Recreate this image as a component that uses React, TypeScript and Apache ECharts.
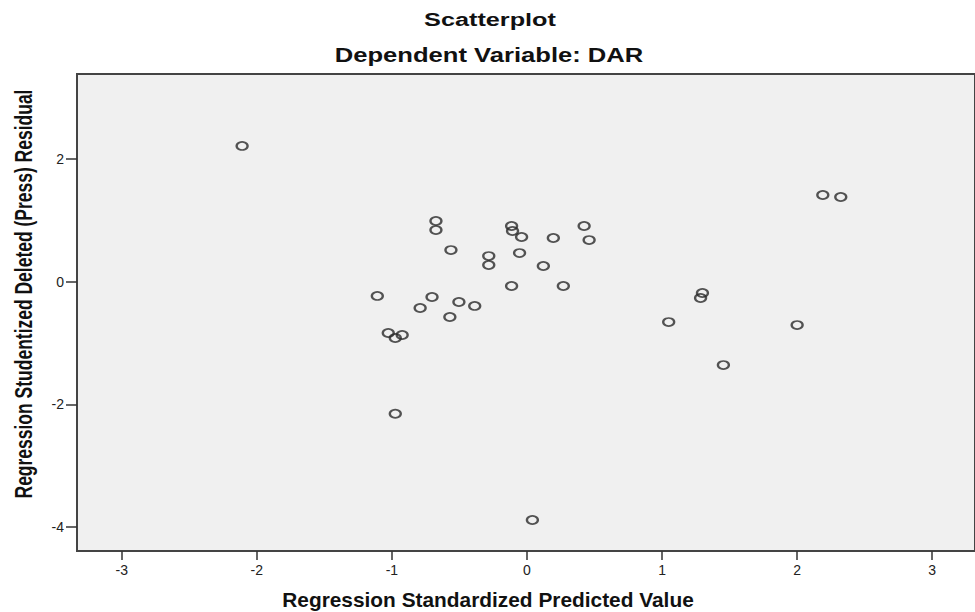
import React, { useEffect, useRef } from 'react';
import * as echarts from 'echarts';

const predicted = [
  -2.109, -0.674, -0.674, -0.563, -0.283, -0.283, -0.114, -0.107, -0.040, -0.055,
  0.195, 0.423, 0.460, 0.121, -0.114, 0.269, -1.108, -0.703, -0.791, -0.504,
  -0.387, -0.571, -1.027, -0.975, -0.924, -0.975, 0.040, 1.049, 1.299, 1.285,
  1.454, 2.0, 2.190, 2.323,
];
const residual = [
  2.213, 0.989, 0.842, 0.516, 0.418, 0.272, 0.908, 0.826, 0.728, 0.467,
  0.712, 0.908, 0.679, 0.256, -0.070, -0.070, -0.233, -0.250, -0.429, -0.331,
  -0.396, -0.576, -0.837, -0.918, -0.869, -2.153, -3.886, -0.658, -0.185, -0.266,
  -1.359, -0.707, 1.413, 1.381,
];
const xTicks = [-3, -2, -1, 0, 1, 2, 3];
const yTicks = [-4, -2, 0, 2];
const titleText = 'Scatterplot';
const subtitleText = 'Dependent Variable: DAR';
const xName = 'Regression Standardized Predicted Value';
const yName = 'Regression Studentized Deleted (Press) Residual';

export default function App() {
  const ref = useRef<HTMLDivElement>(null);
  useEffect(() => {
    document.body.style.margin = '0';
    const chart = echarts.init(ref.current as HTMLDivElement, null, { renderer: 'svg' });
    const font = '"Liberation Sans", Arial, sans-serif';
    chart.setOption({
      animation: false,
      backgroundColor: '#ffffff',
      grid: {
        left: 77,
        top: 74,
        width: 903,
        height: 477,
        show: true,
        backgroundColor: '#f0f0f0',
        borderColor: '#444444',
        borderWidth: 2,
      },
      xAxis: {
        type: 'value',
        min: -3.3314,
        max: 3.3167,
        axisLine: { show: false, onZero: false },
        splitLine: { show: false },
        axisTick: {
          show: true,
          length: 9,
          customValues: xTicks,
          lineStyle: { color: '#333333', width: 1.5 },
        },
        axisLabel: {
          customValues: xTicks,
          color: '#222222',
          fontSize: 14,
          fontFamily: font,
          margin: 12,
        },
      },
      yAxis: {
        type: 'value',
        min: -4.391,
        max: 3.386,
        axisLine: { show: false, onZero: false },
        splitLine: { show: false },
        axisTick: {
          show: true,
          length: 11,
          customValues: yTicks,
          lineStyle: { color: '#333333', width: 1.5 },
        },
        axisLabel: {
          customValues: yTicks,
          color: '#222222',
          fontSize: 14,
          fontFamily: font,
          margin: 13,
        },
      },
      graphic: [
        {
          type: 'text',
          x: 490,
          y: 20,
          scaleX: 1.33,
          style: {
            text: titleText,
            font: 'bold 19px ' + font,
            fill: '#111111',
            textAlign: 'center',
            textVerticalAlign: 'middle',
          },
        },
        {
          type: 'text',
          x: 489,
          y: 55,
          scaleX: 1.28,
          style: {
            text: subtitleText,
            font: 'bold 20px ' + font,
            fill: '#111111',
            textAlign: 'center',
            textVerticalAlign: 'middle',
          },
        },
        {
          type: 'text',
          x: 488,
          y: 600,
          scaleX: 1.07,
          style: {
            text: xName,
            font: 'bold 19.5px ' + font,
            fill: '#111111',
            textAlign: 'center',
            textVerticalAlign: 'middle',
          },
        },
        {
          type: 'text',
          x: 23,
          y: 294,
          rotation: Math.PI / 2,
          scaleY: 1.35,
          style: {
            text: yName,
            font: 'bold 17.5px ' + font,
            fill: '#111111',
            textAlign: 'center',
            textVerticalAlign: 'middle',
          },
        },
      ],
      series: [
        {
          type: 'scatter',
          data: predicted.map((x, i) => [x, residual[i]]),
          symbol: 'circle',
          symbolSize: [11, 8],
          itemStyle: {
            color: 'rgba(0,0,0,0)',
            borderColor: '#2a2a2a',
            borderWidth: 2,
          },
        },
      ],
    });
    return () => chart.dispose();
  }, []);
  return <div ref={ref} style={{ width: 975, height: 612 }} />;
}
